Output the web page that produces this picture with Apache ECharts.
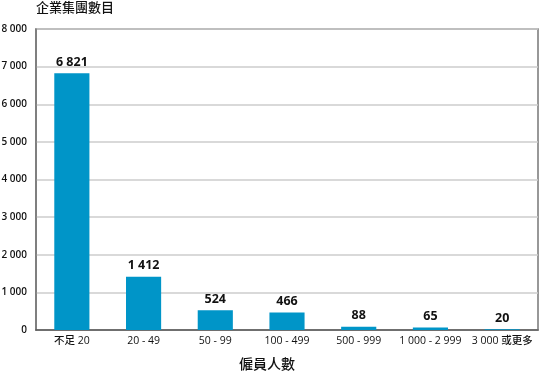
<!DOCTYPE html>
<html><head><meta charset="utf-8">
<script src="https://cdn.jsdelivr.net/npm/echarts@6/dist/echarts.min.js"></script>
<style>html,body{margin:0;padding:0;background:#fff}#c{width:540px;height:371px}</style>
</head><body><div id="c"></div>
<script>
var categories = ['不足 20', '20 - 49', '50 - 99', '100 - 499', '500 - 999', '1 000 - 2 999', '3 000 或更多'];
var values = [6821, 1412, 524, 466, 88, 65, 20];
var yTicks = [0, 1000, 2000, 3000, 4000, 5000, 6000, 7000, 8000];
function fmt(v){ return String(v).replace(/\B(?=(\d{3})+(?!\d))/g, ' '); }
var font = '"Open Sans", "Noto Sans CJK TC", sans-serif';
var chart = echarts.init(document.getElementById('c'), null, {renderer:'canvas'});
chart.setOption({
  animation: false,
  title: {
    text: '僱員人數', left: 262, top: 353, textAlign: 'center',
    textStyle: {fontFamily: font, fontSize: 14, fontWeight: 500, color: '#111'}
  },
  grid: {left: 36, right: 2, top: 29, bottom: 41, containLabel: false, outerBoundsMode: 'none',
    show: true, borderColor: '#777', borderWidth: 1.5},
  xAxis: {
    type: 'category', data: categories,
    axisLine: {lineStyle: {color: '#555', width: 1.5}},
    axisTick: {show: false},
    axisLabel: {interval: 0, margin: 6, fontFamily: font, fontSize: 10.5, fontWeight: 500, color: '#111'}
  },
  yAxis: {
    type: 'value', min: yTicks[0], max: yTicks[yTicks.length-1], interval: 1000,
    name: '企業集團數目', nameLocation: 'end', nameGap: 21,
    nameTextStyle: {align: 'left', verticalAlign: 'middle', fontFamily: font, fontSize: 13, fontWeight: 500, color: '#111'},
    axisLine: {show: true, lineStyle: {color: '#777', width: 1.5}},
    axisTick: {show: false},
    splitLine: {lineStyle: {color: '#ccc', width: 1.5}},
    axisLabel: {margin: 9, fontFamily: font, fontSize: 10, fontWeight: 600, color: '#111', formatter: function(v){return fmt(v);}}
  },
  series: [{
    type: 'bar', data: values, barWidth: '49%',
    itemStyle: {color: '#0095c8'},
    label: {show: true, position: 'top', distance: 5, fontFamily: font, fontSize: 12.5, fontWeight: 'bold', color: '#111',
      formatter: function(p){return fmt(p.value);}}
  }]
});
</script></body></html>
